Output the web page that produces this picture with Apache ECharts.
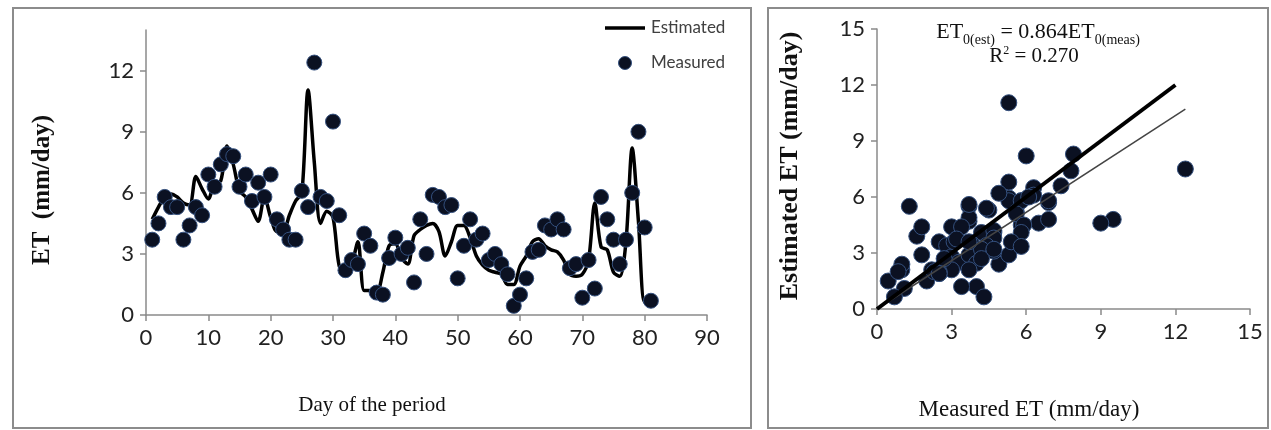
<!DOCTYPE html>
<html>
<head>
<meta charset="utf-8">
<script src="https://cdn.jsdelivr.net/npm/echarts@6/dist/echarts.min.js"></script>
<style>
  html, body { margin: 0; padding: 0; background: #ffffff; }
  #chart { width: 1271px; height: 430px; }
</style>
</head>
<body>
<div id="chart"></div>
<script>
// Daily reference evapotranspiration (mm/day), days 1..81 of the period
const measuredET = [
  3.7, 4.5, 5.8, 5.3, 5.3, 3.7, 4.4, 5.3, 4.9, 6.9,
  6.3, 7.4, 7.9, 7.8, 6.3, 6.9, 5.6, 6.5, 5.8, 6.9,
  4.7, 4.2, 3.7, 3.7, 6.1, 5.3, 12.4, 5.8, 5.6, 9.5,
  4.9, 2.2, 2.7, 2.5, 4.0, 3.4, 1.1, 1.0, 2.8, 3.8,
  3.0, 3.3, 1.6, 4.7, 3.0, 5.9, 5.8, 5.3, 5.4, 1.8,
  3.4, 4.7, 3.7, 4.0, 2.7, 3.0, 2.5, 2.0, 0.45, 1.0,
  1.8, 3.1, 3.2, 4.4, 4.2, 4.7, 4.2, 2.3, 2.5, 0.85,
  2.7, 1.3, 5.8, 4.7, 3.7, 2.5, 3.7, 6.0, 9.0, 4.3,
  0.7
];
const estimatedET = [
  4.7, 5.3, 5.8, 5.95, 5.8, 5.5, 5.4, 6.8, 6.2, 5.7,
  6.5, 6.6, 8.3, 7.4, 6.1, 5.8, 5.2, 4.6, 5.8, 4.8,
  4.1, 4.1, 4.9, 5.6, 6.0, 11.05, 7.5, 4.5, 5.1, 4.8,
  2.4, 2.1, 2.5, 3.6, 1.2, 1.2, 1.1, 2.1, 3.4, 3.5,
  2.8, 2.5, 3.9, 4.2, 4.4, 4.5, 4.1, 2.9, 3.6, 4.4,
  4.4, 3.8, 2.9, 2.45, 2.2, 2.1, 2.0, 1.5, 1.5, 2.4,
  2.9, 3.6, 3.75, 3.4, 3.2, 3.1, 2.7, 2.0, 1.9, 2.0,
  2.7, 5.5, 3.35, 3.2, 2.1, 1.9, 3.6, 8.2, 4.6, 0.65,
  0.65
];

// Axis tick values
const dayTicks = [0, 10, 20, 30, 40, 50, 60, 70, 80, 90];
const etTicks = [0, 3, 6, 9, 12];
const scatterTicks = [0, 3, 6, 9, 12, 15];

// Regression through the origin and its fit statistic
const fitSlope = 0.864;
const fitR2 = '0.270';
const oneToOneEnd = 12;

const dayPoints = measuredET.map((v, i) => [i + 1, v]);
const estPoints = estimatedET.map((v, i) => [i + 1, v]);
const pairPoints = measuredET.map((v, i) => [v, estimatedET[i]]);
const maxMeasured = Math.max(...measuredET);

const tickFont = 'Lato, "Open Sans", sans-serif';
const serif = '"Liberation Serif", "DejaVu Serif", serif';
const axisGrey = '#8a8a8a';
const dotFill = '#0b1122';
const dotEdge = '#34507e';

function valueAxis(gridIndex, min, max, interval, ticks) {
  return {
    type: 'value', gridIndex, min, max, interval,
    axisLine: { show: true, lineStyle: { color: axisGrey, width: 1.5 } },
    axisTick: { show: true, length: 6, customValues: ticks, lineStyle: { color: axisGrey, width: 1.5 } },
    axisLabel: { customValues: ticks, color: '#222', fontFamily: tickFont, fontSize: 22, margin: 12 },
    splitLine: { show: false }
  };
}

const chart = echarts.init(document.getElementById('chart'), null, { renderer: 'canvas' });

chart.setOption({
  animation: false,
  backgroundColor: '#ffffff',
  grid: [
    { left: 146, top: 30, width: 561, height: 285 },
    { left: 877, top: 29, width: 373, height: 280 }
  ],
  xAxis: [
    valueAxis(0, 0, 90, 10, dayTicks),
    valueAxis(1, 0, 15, 3, scatterTicks)
  ],
  yAxis: [
    valueAxis(0, 0, 14, 1, etTicks),
    valueAxis(1, 0, 15, 3, scatterTicks)
  ],
  series: [
    {
      name: 'Estimated', type: 'line', xAxisIndex: 0, yAxisIndex: 0,
      data: estPoints, smooth: 0.3, showSymbol: false,
      lineStyle: { color: '#000', width: 3.5 }, z: 2
    },
    {
      name: 'Measured', type: 'scatter', xAxisIndex: 0, yAxisIndex: 0,
      data: dayPoints, symbolSize: 15,
      itemStyle: { color: dotFill, borderColor: dotEdge, borderWidth: 1, opacity: 1 }, z: 3
    },
    {
      name: 'Pairs', type: 'scatter', xAxisIndex: 1, yAxisIndex: 1,
      data: pairPoints, symbolSize: 16,
      itemStyle: { color: dotFill, borderColor: dotEdge, borderWidth: 1, opacity: 1 }, z: 2
    },
    {
      name: 'Fit', type: 'line', xAxisIndex: 1, yAxisIndex: 1,
      data: [[0, 0], [maxMeasured, fitSlope * maxMeasured]], showSymbol: false,
      lineStyle: { color: '#444', width: 1.5 }, z: 3
    },
    {
      name: 'OneToOne', type: 'line', xAxisIndex: 1, yAxisIndex: 1,
      data: [[0, 0], [oneToOneEnd, oneToOneEnd]], showSymbol: false,
      lineStyle: { color: '#000', width: 4 }, z: 4
    }
  ],
  graphic: [
    // panel frames
    { type: 'rect', shape: { x: 13, y: 8, width: 738, height: 420 }, style: { fill: null, stroke: '#8c8c8c', lineWidth: 2 }, z: 0 },
    { type: 'rect', shape: { x: 768, y: 8, width: 500, height: 420 }, style: { fill: null, stroke: '#8c8c8c', lineWidth: 2 }, z: 0 },
    // axis titles
    { type: 'text', x: 43, y: 190, rotation: Math.PI / 2,
      style: { text: 'ET  (mm/day)', font: 'bold 25px ' + serif, fill: '#111', align: 'center', verticalAlign: 'middle' } },
    { type: 'text', x: 372, y: 405,
      style: { text: 'Day of the period', font: '21px ' + serif, fill: '#111', align: 'center', verticalAlign: 'middle' } },
    { type: 'text', x: 790, y: 166, rotation: Math.PI / 2,
      style: { text: 'Estimated ET (mm/day)', font: 'bold 26px ' + serif, fill: '#111', align: 'center', verticalAlign: 'middle' } },
    { type: 'text', x: 1029, y: 410,
      style: { text: 'Measured ET (mm/day)', font: '23px ' + serif, fill: '#111', align: 'center', verticalAlign: 'middle' } },
    // legend
    { type: 'line', shape: { x1: 605, y1: 28, x2: 645, y2: 28 }, style: { stroke: '#000', lineWidth: 3.5 } },
    { type: 'text', x: 651, y: 28,
      style: { text: 'Estimated', font: '17px ' + tickFont, fill: '#404040', align: 'left', verticalAlign: 'middle' } },
    { type: 'circle', shape: { cx: 625, cy: 63, r: 6.5 }, style: { fill: dotFill, stroke: dotEdge, lineWidth: 1 } },
    { type: 'text', x: 651, y: 63,
      style: { text: 'Measured', font: '17px ' + tickFont, fill: '#404040', align: 'left', verticalAlign: 'middle' } },
    // fit annotation
    { type: 'text', x: 1038, y: 32,
      style: {
        text: '{m|ET}{s|0(est)}{m| = ' + fitSlope + 'ET}{s|0(meas)}',
        align: 'center', verticalAlign: 'middle',
        rich: {
          m: { font: '22px ' + serif, fill: '#111', lineHeight: 22, verticalAlign: 'bottom' },
          s: { font: '14px ' + serif, fill: '#111', lineHeight: 14, verticalAlign: 'bottom', padding: [0, 0, -4, 0] }
        }
      } },
    { type: 'text', x: 1034, y: 56,
      style: {
        text: '{m|R}{p|2}{m| = ' + fitR2 + '}',
        align: 'center', verticalAlign: 'middle',
        rich: {
          m: { font: '21px ' + serif, fill: '#111', lineHeight: 22 },
          p: { font: '12px ' + serif, fill: '#111', lineHeight: 22, verticalAlign: 'top' }
        }
      } }
  ]
});
</script>
</body>
</html>
